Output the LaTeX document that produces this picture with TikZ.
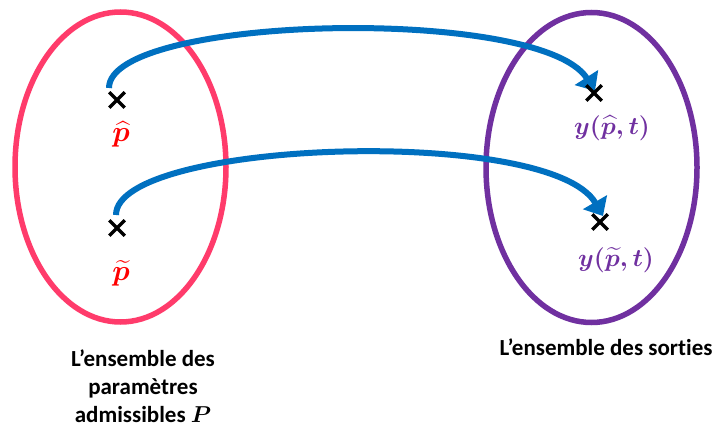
\RequirePackage{fix-cm}
\documentclass[tikz,border=0pt]{standalone}
\usepackage{amsmath,bm}
\usepackage{fontspec}
\setmainfont{Carlito}[Ligatures=NoCommon]
\usetikzlibrary{arrows.meta,shapes.misc,shapes.geometric}
\definecolor{pinkset}{HTML}{FF3B6B}
\definecolor{purpleset}{HTML}{7030A0}
\definecolor{arrowblue}{HTML}{0070C0}
\definecolor{pred}{HTML}{FF0000}
\tikzset{
  setell/.style={ellipse, draw, line width=5.5pt, minimum width=211pt, minimum height=310pt, inner sep=0pt},
  xmark/.style={cross out, draw=black, line width=3.5pt, minimum size=12pt, inner sep=0pt},
  maparrow/.style={draw=arrowblue, line width=6pt, -{Triangle[width=27pt,length=16pt]}},
  mathlab/.style={font=\fontsize{25}{30}\selectfont\boldmath, inner sep=0pt},
  ptlab/.style={font=\fontsize{29}{34}\selectfont\boldmath, inner sep=0pt},
  caption/.style={font=\fontsize{23}{28}\selectfont\bfseries\boldmath, align=center, inner sep=0pt}
}
\begin{document}
\begin{tikzpicture}[x=1pt,y=-1pt]
\path[use as bounding box, fill=white] (0,0) rectangle (719,427);
% sets
\node[setell, draw=pinkset] (ellP) at (120.5,167) {};
\node[setell, draw=purpleset] (ellS) at (591.5,167.5) {};
% arrow endpoints
\coordinate (s1) at (109,88);
\coordinate (t1) at (595,91);
\coordinate (s2) at (116,215);
\coordinate (t2) at (603,216);
\draw[maparrow] (s1) .. controls (109,15) and (540,5) .. (t1);
\draw[maparrow] (s2) .. controls (116,140) and (550,125) .. (t2);
% points
\node[xmark] (c1) at (117,100) {};
\node[xmark] (c2) at (117,228) {};
\node[xmark] (c3) at (594,93) {};
\node[xmark] (c4) at (600,222) {};
% labels
\node[ptlab, text=pred] (lp1) at (121,134) {$\widehat{p}$};
\node[ptlab, text=pred] (lp2) at (121,273) {$\widetilde{p}$};
\node[mathlab, text=purpleset] (ly1) at (612,128) {$y(\widehat{p},t)$};
\node[mathlab, text=purpleset] (ly2) at (616,260) {$y(\widetilde{p},t)$};
% captions
\node[caption] (capP) at (143,386) {L’ensemble des\\paramètres\\admissibles $P$};
\node[caption, anchor=base] (capS) at (606,355) {L’ensemble des sorties};
\end{tikzpicture}
\end{document}
